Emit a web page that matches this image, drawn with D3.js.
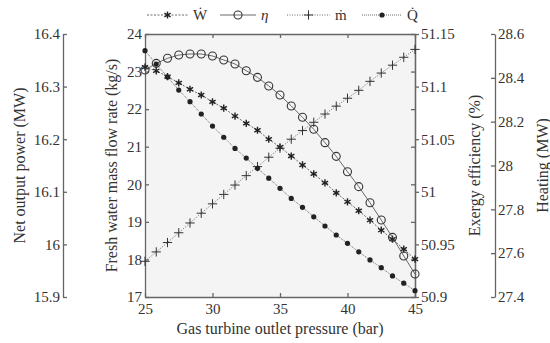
<!DOCTYPE html>
<html>
<head>
<meta charset="utf-8">
<script src="https://cdn.jsdelivr.net/npm/d3@7"></script>
<style>
body { margin: 0; background: #fff; }
svg text { font-family: "Liberation Serif", "DejaVu Serif", serif; fill: #333; }
</style>
</head>
<body>
<div class="chart"></div>
<script>
const w = 550, h = 343;

// gas turbine outlet pressure (bar)
const pressure = [25, 25.833, 26.667, 27.5, 28.333, 29.167, 30, 30.833, 31.667, 32.5, 33.333, 34.167,
  35, 35.833, 36.667, 37.5, 38.333, 39.167, 40, 40.833, 41.667, 42.5, 43.333, 44.167, 45];
// net output power (MW)
const power = [16.337, 16.330, 16.319, 16.307, 16.295, 16.284, 16.271, 16.259, 16.244, 16.230, 16.217, 16.200,
  16.185, 16.168, 16.151, 16.134, 16.117, 16.098, 16.081, 16.064, 16.046, 16.027, 16.010, 15.991, 15.972];
// exergy efficiency (%)
const exergy = [51.1158, 51.1221, 51.1269, 51.1300, 51.1310, 51.1310, 51.1291, 51.1253, 51.1215, 51.1151, 51.1088, 51.1006,
  51.0920, 51.0816, 51.0708, 51.0594, 51.0467, 51.0337, 51.0191, 51.0049, 50.9896, 50.9732, 50.9567, 50.9390, 50.9219];
// fresh water mass flow rate (kg/s)
const water = [17.95, 18.2, 18.45, 18.71, 18.97, 19.23, 19.48, 19.73, 19.98, 20.23, 20.47, 20.72,
  20.96, 21.2, 21.43, 21.65, 21.87, 22.08, 22.29, 22.5, 22.74, 22.96, 23.17, 23.38, 23.59];
// heating (MW)
const heating = [28.524, 28.463, 28.404, 28.344, 28.291, 28.235, 28.180, 28.129, 28.078, 28.034, 27.987, 27.942,
  27.896, 27.850, 27.809, 27.766, 27.724, 27.683, 27.645, 27.606, 27.569, 27.534, 27.496, 27.463, 27.429];

const xTicks = [25, 30, 35, 40, 45];
const waterTicks = [17, 18, 19, 20, 21, 22, 23, 24];
const powerTicks = [15.9, 16, 16.1, 16.2, 16.3, 16.4];
const exergyTicks = [50.9, 50.95, 51, 51.05, 51.1, 51.15];
const heatTicks = [27.4, 27.6, 27.8, 28, 28.2, 28.4, 28.6];

const pLeft = 145, pRight = 415, pTop = 34, pBottom = 297;
const axisColor = '#666';
const lineColor = '#444';
const fs = 15;
const titleFs = 16;
const serif = 'Liberation Serif, DejaVu Serif, serif';

const svg = d3.select('div.chart').append('svg')
  .attr('width', w).attr('height', h);

const xScale = d3.scaleLinear().domain([25, 45]).range([pLeft, pRight]);
const yWater = d3.scaleLinear().domain([17, 24]).range([pBottom, pTop]);
const yPower = d3.scaleLinear().domain([15.9, 16.4]).range([pBottom, pTop]);
const yExergy = d3.scaleLinear().domain([50.9, 51.15]).range([pBottom, pTop]);
const yHeat = d3.scaleLinear().domain([27.4, 28.6]).range([pBottom, pTop]);

svg.append('rect')
  .attr('x', pLeft).attr('y', pTop)
  .attr('width', pRight - pLeft).attr('height', pBottom - pTop)
  .attr('fill', '#f4f4f4');

function styleAxis(g) {
  g.attr('font-family', serif).attr('font-size', fs);
  g.selectAll('path, line').attr('stroke', axisColor).attr('stroke-width', 1.3);
  g.selectAll('text').attr('font-family', serif).attr('fill', '#333');
}

// box axes
svg.append('g').attr('transform', 'translate(0,' + pBottom + ')')
  .call(d3.axisBottom(xScale).tickValues(xTicks).tickSize(-4).tickSizeOuter(0).tickPadding(6).tickFormat(d3.format('d')))
  .call(styleAxis);
svg.append('g').attr('transform', 'translate(0,' + pTop + ')')
  .call(d3.axisTop(xScale).tickValues(xTicks).tickSize(-4).tickSizeOuter(0).tickFormat(''))
  .call(styleAxis);
svg.append('g').attr('transform', 'translate(' + pLeft + ',0)')
  .call(d3.axisLeft(yWater).tickValues(waterTicks).tickSize(-4).tickSizeOuter(0).tickPadding(3).tickFormat(d3.format('d')))
  .call(styleAxis);
svg.append('g').attr('transform', 'translate(' + pRight + ',0)')
  .call(d3.axisRight(yWater).tickValues(waterTicks).tickSize(-4).tickSizeOuter(0).tickFormat(''))
  .call(styleAxis);
svg.append('g').attr('transform', 'translate(' + pRight + ',0)')
  .call(d3.axisRight(yExergy).tickValues(exergyTicks).tickSize(4).tickSizeOuter(0).tickPadding(2).tickFormat(d3.format('')))
  .call(styleAxis);

// separate axes
svg.append('g').attr('transform', 'translate(63,0)')
  .call(d3.axisLeft(yPower).tickValues(powerTicks).tickSize(-4).tickSizeOuter(0).tickPadding(3).tickFormat(d3.format('')))
  .call(styleAxis);
svg.append('g').attr('transform', 'translate(495,0)')
  .call(d3.axisRight(yHeat).tickValues(heatTicks).tickSize(-4).tickSizeOuter(0).tickPadding(3).tickFormat(d3.format('')))
  .call(styleAxis);

// axis titles
function vLabel(x, txt) {
  svg.append('text')
    .attr('transform', 'translate(' + x + ',' + ((pTop + pBottom) / 2) + ') rotate(-90)')
    .attr('text-anchor', 'middle')
    .attr('font-family', serif)
    .attr('font-size', titleFs)
    .text(txt);
}
vLabel(25, 'Net output power (MW)');
vLabel(117, 'Fresh water mass flow rate (kg/s)');
vLabel(480, 'Exergy efficiency (%)');
vLabel(548, 'Heating (MW)');

svg.append('text')
  .attr('x', (pLeft + pRight) / 2).attr('y', 334)
  .attr('text-anchor', 'middle')
  .attr('font-family', serif)
  .attr('font-size', titleFs)
  .text('Gas turbine outlet pressure (bar)');

// series
const series = [
  {name: 'W', vals: power, y: yPower, dash: '2,1.5', marker: 'star'},
  {name: 'eta', vals: exergy, y: yExergy, dash: null, marker: 'circle'},
  {name: 'm', vals: water, y: yWater, dash: '1,1.5', marker: 'plus'},
  {name: 'Q', vals: heating, y: yHeat, dash: '1,1', marker: 'dot'}
];

function drawMarker(g, type, x, y) {
  if (type === 'circle') {
    g.append('circle').attr('cx', x).attr('cy', y).attr('r', 4)
      .attr('fill', 'none').attr('stroke', '#333').attr('stroke-width', 1.1);
  } else if (type === 'dot') {
    g.append('circle').attr('cx', x).attr('cy', y).attr('r', 2.6).attr('fill', '#222');
  } else if (type === 'plus') {
    g.append('path').attr('transform', 'translate(' + x + ',' + y + ')')
      .attr('d', d3.symbol(d3.symbolPlus, 30)())
      .attr('fill', 'none').attr('stroke', '#333').attr('stroke-width', 1);
  } else {
    g.append('path').attr('transform', 'translate(' + x + ',' + y + ')')
      .attr('d', d3.symbol(d3.symbolAsterisk, 36)())
      .attr('fill', 'none').attr('stroke', '#222').attr('stroke-width', 1.4);
  }
}

series.forEach(s => {
  const line = d3.line().x((d, i) => xScale(pressure[i])).y(d => s.y(d));
  svg.append('path')
    .datum(s.vals)
    .attr('d', line)
    .attr('fill', 'none')
    .attr('stroke', lineColor)
    .attr('stroke-width', 0.8)
    .attr('stroke-dasharray', s.dash);
  const g = svg.append('g');
  s.vals.forEach((v, i) => drawMarker(g, s.marker, xScale(pressure[i]), s.y(v)));
});

// legend
const legend = [
  {x0: 147, x1: 188, label: 'Ẇ', italic: false},
  {x0: 220, x1: 256, label: 'η', italic: true},
  {x0: 287, x1: 330, label: 'ṁ', italic: false},
  {x0: 362, x1: 402, label: 'Q̇', italic: false}
];
legend.forEach((l, i) => {
  const s = series[i];
  svg.append('line')
    .attr('x1', l.x0).attr('x2', l.x1).attr('y1', 15).attr('y2', 15)
    .attr('stroke', lineColor).attr('stroke-width', 0.8)
    .attr('stroke-dasharray', s.dash);
  const g = svg.append('g');
  drawMarker(g, s.marker, (l.x0 + l.x1) / 2, 15);
  svg.append('text')
    .attr('x', l.x1 + 5).attr('y', 20)
    .attr('font-family', serif)
    .attr('font-size', fs)
    .attr('font-style', l.italic ? 'italic' : 'normal')
    .text(l.label);
});
</script>
</body>
</html>
